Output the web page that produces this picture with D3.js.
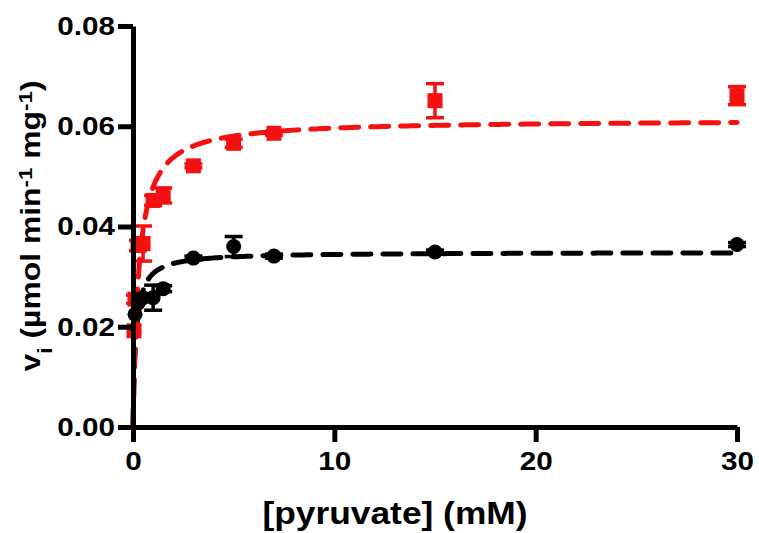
<!DOCTYPE html>
<html>
<head>
<meta charset="utf-8">
<script src="https://cdn.jsdelivr.net/npm/d3@7"></script>
<style>
  body { margin: 0; background: #fff; }
  text { font-family: "Liberation Sans", Arial, sans-serif; font-weight: bold; }
</style>
</head>
<body>
<div class="canvas"></div>
<script>
// pyruvate concentrations (mM)
const pyruvate = [0.05, 0.1, 0.25, 0.5, 1, 1.5, 3, 5, 7, 15, 30];

// red squares
const redRate = [0.0192, 0.0255, 0.0362, 0.0366, 0.0452, 0.0462, 0.0521, 0.0566, 0.0586, 0.0651, 0.0661];
const redErr  = [0, 0.0008, 0.0010, 0.0035, 0.0010, 0.0015, 0.0004, 0.0008, 0.0004, 0.0034, 0.0018];

// black circles
const blackX    = [0.1, 0.25, 0.5, 1, 1.5, 3, 5, 7, 15, 30];
const blackRate = [0.0225, 0.0247, 0.0258, 0.0258, 0.0276, 0.0337, 0.0360, 0.0341, 0.0349, 0.0364];
const blackErr  = [0, 0, 0.0008, 0.0025, 0.0006, 0.0004, 0.0020, 0.0004, 0.0004, 0.0004];

// Michaelis-Menten fit parameters [Vmax, Km]
const redFit = [0.0613, 0.28];
const blackFit = [0.0349, 0.14];

const xTicks = [0, 10, 20, 30];
const yTicks = [0, 0.02, 0.04, 0.06, 0.08];

const width = 759, height = 533;
const stretch = 1.14; // glyphs in the original are drawn wide

const svg = d3.select('.canvas')
  .append('svg')
  .attr('width', width)
  .attr('height', height);

// scales
const x = d3.scaleLinear().domain([0, 30]).range([133, 737]);
const y = d3.scaleLinear().domain([0, 0.08]).range([427, 26]);

// fitted curves
const fitX = d3.range(0, 1, 0.002).concat(d3.range(1, 30.001, 0.1));
const line = d3.line()
  .x(d => x(d[0]))
  .y(d => y(d[1]));

const curve = (fit) => fitX.map(v => [v, fit[0] * v / (fit[1] + v)]);

svg.append('path')
  .attr('d', line(curve(blackFit)))
  .attr('fill', 'none')
  .attr('stroke', '#000')
  .attr('stroke-width', 5)
  .attr('stroke-linecap', 'round')
  .attr('stroke-dasharray', '18,12');

svg.append('path')
  .attr('d', line(curve(redFit)))
  .attr('fill', 'none')
  .attr('stroke', '#f51111')
  .attr('stroke-width', 5)
  .attr('stroke-linecap', 'round')
  .attr('stroke-dasharray', '18,12');

// error bars
const drawErrors = (xs, ys, errs, colour) => {
  const g = svg.append('g')
    .attr('stroke', colour)
    .attr('stroke-width', 3.5);
  xs.forEach((v, i) => {
    if (!errs[i]) return;
    const cx = x(v), top = y(ys[i] + errs[i]), bot = y(ys[i] - errs[i]);
    g.append('line').attr('x1', cx).attr('x2', cx).attr('y1', top).attr('y2', bot);
    g.append('line').attr('x1', cx - 9).attr('x2', cx + 9).attr('y1', top).attr('y2', top);
    g.append('line').attr('x1', cx - 9).attr('x2', cx + 9).attr('y1', bot).attr('y2', bot);
  });
};

drawErrors(pyruvate, redRate, redErr, '#f51111');

svg.append('g')
  .selectAll('rect')
  .data(pyruvate)
  .enter()
  .append('rect')
    .attr('x', d => x(d) - 7.5)
    .attr('y', (d, i) => y(redRate[i]) - 7.5)
    .attr('width', 15)
    .attr('height', 15)
    .attr('fill', '#f51111');

drawErrors(blackX, blackRate, blackErr, '#000');

svg.append('g')
  .selectAll('circle')
  .data(blackX)
  .enter()
  .append('circle')
    .attr('cx', d => x(d))
    .attr('cy', (d, i) => y(blackRate[i]))
    .attr('r', 7.5)
    .attr('fill', '#000');

// axes
const xAxis = d3.axisBottom(x)
  .tickValues(xTicks)
  .tickSize(15)
  .tickSizeOuter(0)
  .tickPadding(10)
  .tickFormat(d3.format('d'));

const yAxis = d3.axisLeft(y)
  .tickValues(yTicks)
  .tickSize(15)
  .tickSizeOuter(0)
  .tickPadding(3)
  .tickFormat(d3.format('.2f'));

const xaxisGroup = svg.append('g')
  .attr('transform', `translate(0, ${y(0)})`)
  .call(xAxis);

const yaxisGroup = svg.append('g')
  .attr('transform', `translate(${x(0)}, 0)`)
  .call(yAxis);

[xaxisGroup, yaxisGroup].forEach(g => {
  g.select('.domain').attr('stroke', '#000').attr('stroke-width', 5);
  g.selectAll('.tick line').attr('stroke', '#000').attr('stroke-width', 5);
  g.selectAll('.tick text')
    .attr('fill', '#000')
    .style('font-size', '26px')
    .style('font-family', '"Liberation Sans", Arial, sans-serif')
    .style('font-weight', 'bold');
});

// widen tick labels around their anchor points
xaxisGroup.selectAll('.tick text')
  .attr('transform', `scale(${stretch},1)`);
yaxisGroup.selectAll('.tick text')
  .attr('x', 0)
  .attr('transform', `translate(-18,0) scale(${stretch},1)`);

// axis titles
svg.append('text')
  .attr('transform', `translate(395,524) scale(${stretch},1)`)
  .attr('text-anchor', 'middle')
  .style('font-size', '31px')
  .text('[pyruvate] (mM)');

const ylab = svg.append('text')
  .attr('transform', 'translate(40,226) rotate(-90) scale(1.18,1)')
  .attr('text-anchor', 'middle')
  .style('font-size', '27px');

ylab.append('tspan').text('v');
ylab.append('tspan').attr('baseline-shift', '-12px').style('font-size', '20px').text('i');
ylab.append('tspan').attr('baseline-shift', '0').text(' (µmol min');
ylab.append('tspan').attr('baseline-shift', '8px').style('font-size', '19px').text('-1');
ylab.append('tspan').attr('baseline-shift', '0').text(' mg');
ylab.append('tspan').attr('baseline-shift', '8px').style('font-size', '19px').text('-1');
ylab.append('tspan').attr('baseline-shift', '0').text(')');
</script>
</body>
</html>
